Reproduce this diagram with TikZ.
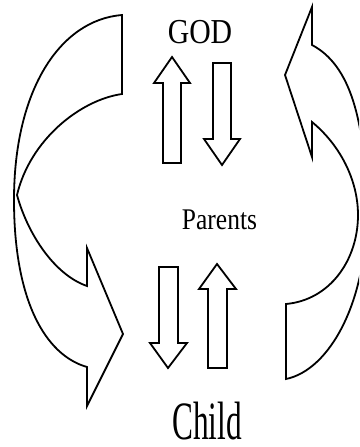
\documentclass[tikz,border=0pt]{standalone}
\usepackage{fontspec}
\setmainfont{Liberation Serif}
\begin{document}
\begin{tikzpicture}[x=1pt,y=-1pt,
  shp/.style={draw=black,line width=1.8pt,line join=miter,fill=white},
  lbl/.style={inner sep=0pt,anchor=base}]
\useasboundingbox (0,0) rectangle (359,447);
\begin{scope}
\clip (0,0) rectangle (359,447);
% left curved arrow
\draw[shp] (122,15) .. controls (60,20) and (14,90) .. (14,200)
  .. controls (14,300) and (45,355) .. (87,367)
  -- (87,406) -- (123,334) -- (87,248) -- (87,286)
  .. controls (55,275) and (28,235) .. (17,195)
  .. controls (30,140) and (80,100) .. (122,94) -- cycle;
% right curved arrow
\draw[shp] (286,379) .. controls (330,370) and (368,300) .. (366,210)
  .. controls (366,120) and (350,65) .. (312,45)
  -- (312,7) -- (285,75) -- (312,157) -- (312,122)
  .. controls (340,145) and (358,180) .. (358,215)
  .. controls (358,260) and (330,300) .. (286,304) -- cycle;
\end{scope}
% upper up arrow
\draw[shp] (172,57) -- (190,83) -- (181,83) -- (181,163) -- (163,163) -- (163,83) -- (154,83) -- cycle;
% upper down arrow
\draw[shp] (222,165) -- (240,139) -- (231,139) -- (231,63) -- (213,63) -- (213,139) -- (204,139) -- cycle;
% lower down arrow
\draw[shp] (168,368) -- (187,343) -- (178,343) -- (178,267) -- (159,267) -- (159,343) -- (150,343) -- cycle;
% lower up arrow
\draw[shp] (217,264) -- (236,289) -- (227,289) -- (227,368) -- (208,368) -- (208,289) -- (199,289) -- cycle;
% labels
\node[lbl] (god) at (200,43) {\fontsize{35}{40}\selectfont\scalebox{0.85}[1]{GOD}};
\node[lbl] (parents) at (219.5,229) {\fontsize{30}{34}\selectfont\scalebox{0.85}[1]{Parents}};
\node[lbl] (child) at (207,439) {\fontsize{54}{60}\selectfont\scalebox{0.58}[1]{Child}};
\end{tikzpicture}
\end{document}
